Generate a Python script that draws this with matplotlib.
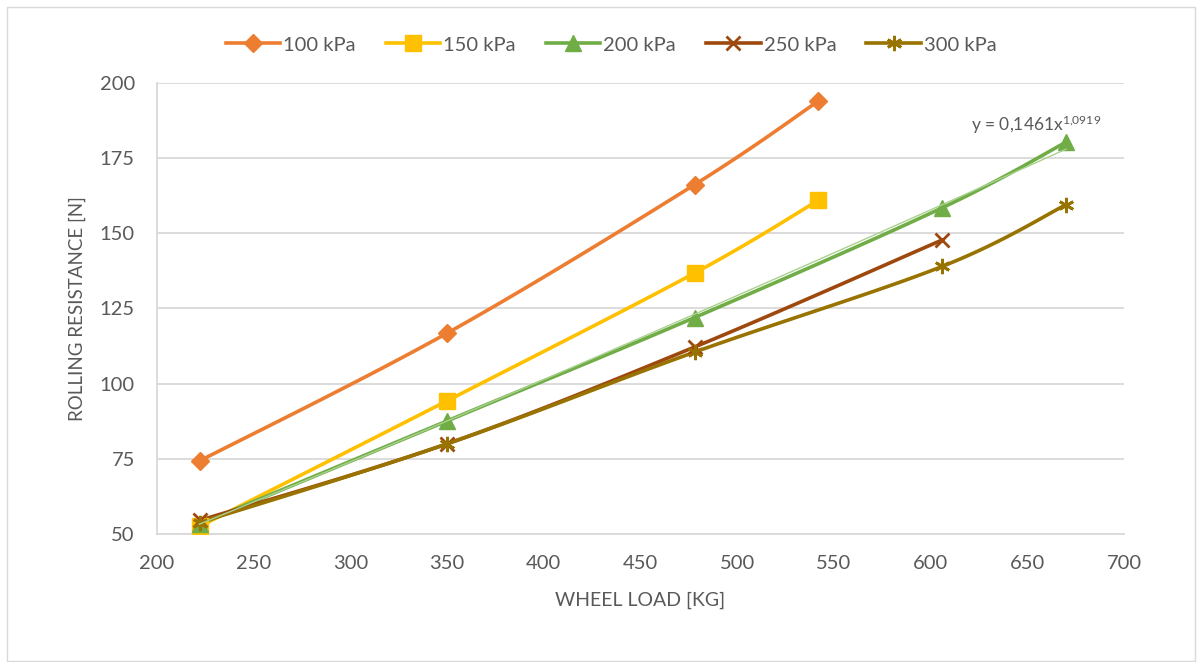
import numpy as np
import matplotlib
matplotlib.use("Agg")
import matplotlib.pyplot as plt
from matplotlib.patches import Rectangle

plt.rcParams['font.family'] = ['Lato', 'DejaVu Sans']
plt.rcParams['mathtext.default'] = 'regular'

# ---- data ----
labels = ["100 kPa", "150 kPa", "200 kPa", "250 kPa", "300 kPa"]
x100 = [222, 350, 478, 542]
y100 = [74.3, 116.8, 166.2, 194.0]
x150 = [222, 350, 478, 542]
y150 = [52.5, 94.3, 136.8, 161.0]
x200 = [222, 350, 478, 606, 670]
y200 = [53.3, 87.6, 122.0, 158.5, 180.3]
x250 = [222, 350, 478, 606]
y250 = [54.5, 80.0, 112.2, 147.8]
x300 = [222, 350, 478, 606, 670]
y300 = [53.8, 80.0, 110.5, 139.0, 159.5]
trend_a, trend_b = 0.1461, 1.0919
xticks = [200, 250, 300, 350, 400, 450, 500, 550, 600, 650, 700]
yticks = [50, 75, 100, 125, 150, 175, 200]

colors = ["#ED7D31", "#FFC000", "#70AD47", "#9E480E", "#997300"]
markers = ["D", "s", "^", "x", (6, 2, 0)]
msizes = [9, 11, 11, 10, 11]

series = [(x100, y100), (x150, y150), (x200, y200), (x250, y250), (x300, y300)]


def smooth(xs, ys, n=30):
    # Catmull-Rom style Bezier smoothing (like Excel smoothed lines)
    P = np.column_stack([xs, ys]).astype(float)
    if len(P) < 3:
        return P[:, 0], P[:, 1]
    ext = np.vstack([P[0], P, P[-1]])
    out = []
    t = np.linspace(0, 1, n)
    for i in range(1, len(ext) - 2):
        p0, p1, p2, p3 = ext[i - 1], ext[i], ext[i + 1], ext[i + 2]
        c1 = p1 + (p2 - p0) / 6.0
        c2 = p2 - (p3 - p1) / 6.0
        seg = ((1 - t)[:, None] ** 3 * p1 + 3 * ((1 - t) ** 2 * t)[:, None] * c1
               + 3 * ((1 - t) * t ** 2)[:, None] * c2 + (t ** 3)[:, None] * p2)
        out.append(seg if i == 1 else seg[1:])
    out = np.vstack(out)
    return out[:, 0], out[:, 1]


fig = plt.figure(figsize=(12.03, 6.62), dpi=100)
fig.patches.append(Rectangle((7 / 1203, 1 / 662), 1188 / 1203, 654 / 662,
                             transform=fig.transFigure, fill=False,
                             edgecolor="#d9d9d9", linewidth=1))
ax = fig.add_axes([157 / 1203, 1 - 534 / 662, (1124 - 157) / 1203, (534 - 83) / 662])

handles = []
for (xs, ys), c, m, ms, lab in zip(series, colors, markers, msizes, labels):
    sx, sy = smooth(xs, ys)
    ax.plot(sx, sy, color=c, lw=2.6, solid_capstyle='round', zorder=3)
    mew = 2 if m in ("x",) or isinstance(m, tuple) else 1
    ax.plot(xs, ys, linestyle='none', marker=m, ms=ms, color=c, mec=c, mew=mew, zorder=4)
    h, = ax.plot([], [], color=c, lw=2.6, marker=m, ms=ms, mec=c, mew=mew)
    handles.append(h)

# power trendline for 200 kPa
tx = np.linspace(min(x200), max(x200), 100)
ax.plot(tx, trend_a * tx ** trend_b, color="#a9d18e", lw=1, zorder=5)
ax.text(621, 184, "y = 0,1461x$^{1{,}0919}$", fontsize=12.5, color="#595959")

ax.set_xlim(200, 700)
ax.set_ylim(50, 200)
ax.set_xticks(xticks)
ax.set_yticks(yticks)
ax.grid(axis='y', color="#d9d9d9", lw=1.3)
ax.set_axisbelow(True)
for s in ["top", "right"]:
    ax.spines[s].set_visible(False)
for s in ["left", "bottom"]:
    ax.spines[s].set_color("#d9d9d9")
    ax.spines[s].set_linewidth(1.3)
ax.tick_params(length=0, labelsize=14.5, labelcolor="#595959")
ax.tick_params(axis='y', pad=16)
ax.tick_params(axis='x', pad=15)
ax.set_xlabel("WHEEL LOAD [KG]", fontsize=14, color="#595959", labelpad=14)
ax.set_ylabel("ROLLING RESISTANCE [N]", fontsize=13.5, color="#595959", labelpad=10)

fig.legend(handles, labels, loc="center", bbox_to_anchor=(0.508, 1 - 45 / 662), ncol=5,
           frameon=False, fontsize=14.5, handlelength=2.7, columnspacing=1.5,
           handletextpad=0.15, labelcolor="#595959")

fig.savefig("out.png", dpi=100)
